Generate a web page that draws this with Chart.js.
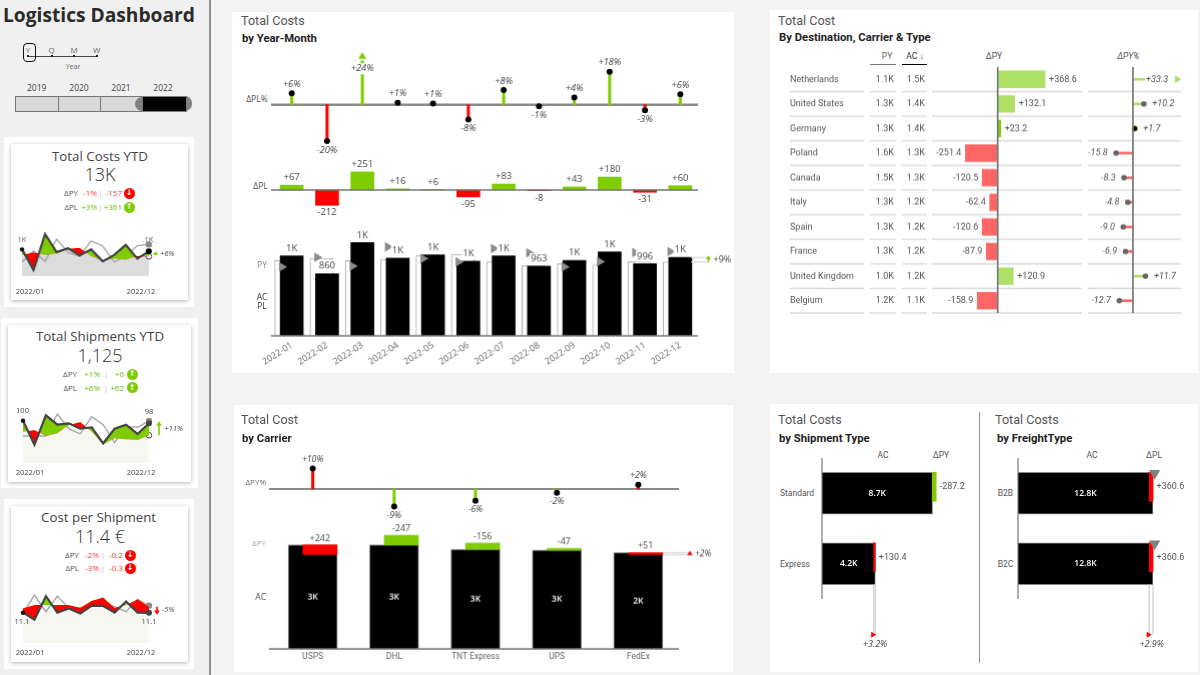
<!DOCTYPE html>
<html>
<head>
<meta charset="utf-8">
<title>Logistics Dashboard</title>
<script src="https://cdn.jsdelivr.net/npm/chart.js@4.4.0/dist/chart.umd.js"></script>
<style>
    html, body { margin: 0; padding: 0; background: #f3f3f3; }
    #page { position: relative; width: 1200px; height: 675px; overflow: hidden; background: #f3f3f3; }
    #page > div { position: absolute; white-space: nowrap; }
    #page > canvas { position: absolute; }
</style>
</head>
<body>
<div id="page"></div>
<script>
// ─── Data ──────────────────────────────────────────────────────
const months      = ['2022-01','2022-02','2022-03','2022-04','2022-05','2022-06','2022-07','2022-08','2022-09','2022-10','2022-11','2022-12'];
const costAC      = [1106,860,1290,1073,1119,1032,1106,963,1041,1161,996,1083];
const costPL      = [1039,1072,1039,1057,1113,1127,1023,971,998,981,1027,1023];
const costPY      = [954,1087,963,1230,1069,1023,1207,1147,954,1027,1152,1166];
const deltaPL     = [67,-212,251,16,6,-95,83,-8,43,180,-31,60];
const deltaPLPct  = [6.3,-19.8,24,1.1,0.6,-8.1,8.1,-0.8,4,18,-3,5.7];
const capPLPct    = [null,null,26.4,null,null,null,null,null,null,null,null,null];

const carriers    = ['USPS','DHL','TNT Express','UPS','FedEx'];
const carrierAC   = [2652,2652,2541,2516,2456];
const carrierDPY  = [242,-247,-156,-47,51];
const carrierPct  = [10,-8.6,-5.8,-1.8,2.1];

const countries   = ['Netherlands','United States','Germany','Poland','Canada','Italy','Spain','France','United Kingdom','Belgium'];
const countryPY   = ['1.1K','1.3K','1.3K','1.6K','1.5K','1.3K','1.3K','1.3K','1.0K','1.2K'];
const countryAC   = ['1.5K','1.4K','1.4K','1.3K','1.3K','1.2K','1.2K','1.2K','1.2K','1.1K'];
const countryDPY  = [368.6,132.1,23.2,-251.4,-120.5,-62.4,-120.6,-87.9,120.9,-158.9];
const countryPct  = [33.3,10.2,1.7,-15.8,-8.3,-4.8,-9.0,-6.9,11.7,-12.7];
const capCountry  = [41.3,null,null,null,null,null,null,null,null,null];

const shipTypes   = ['Standard','Express'];
const shipAC      = [8700,4200];
const shipDPY     = [-287.2,130.4];
const freightType = ['B2B','B2C'];
const freightAC   = [12800,12800];
const freightDPL  = [360.6,360.6];
const freightMark = [12950,12950];

const shipsAC     = [100,82,104,97,98,94,95,83,94,97,90,98];
const shipsPL     = [91.75,93,88.5,90.5,96.75,99,91.75,82,86.75,86,85.5,89];
const shipsPY     = [88.5,88.5,88.5,105,94,90,103,97,83.5,95.5,95,99.75];
const unitAC      = [11.06,10.5,12.4,11.06,11.4,11.0,11.64,11.6,11.07,11.97,11.07,11.05];
const unitPL      = [11.41,11.68,11.68,11.68,11.68,11.47,12.03,12.3,11.47,11.68,12.14,11.55];
const unitPY      = [11.0,12.49,11.14,12.41,11.41,11.47,11.6,11.82,11.55,11.14,12.14,11.63];

const years       = ['2019','2020','2021','2022'];
const grains      = ['Y','Q','M','W'];

const GREEN  = '#7fcc00';
const RED    = '#ff0000';
const LGREEN = '#aedf66';
const LRED   = '#ff6666';
const BODY   = '"Open Sans", sans-serif';
const DIN    = 'Roboto, sans-serif';
const page   = document.getElementById('page');

const signed = (v, d = 0) => (v > 0 ? '+' : '') + v.toFixed(d);
const short  = v => v >= 1000 ? Math.round(v / 1000) + 'K' : String(v);
const kilo   = v => (v / 1000).toFixed(1) + 'K';

// ─── Plain page text and boxes ─────────────────────────────────
function box(x, y, w, h, style = '') {
    const d = document.createElement('div');
    d.style.cssText = `left:${x}px;top:${y}px;width:${w}px;height:${h}px;${style}`;
    page.appendChild(d);
    return d;
}

function txt(x, y, str, o = {}) {
    const d = document.createElement('div');
    const shift = o.align === 'right' ? '-100%' : o.align === 'left' ? '0' : '-50%';
    d.textContent = str;
    d.style.cssText = `left:${x}px;top:${y}px;transform:translate(${shift},-50%);line-height:1;` +
        `font-family:${o.font || BODY};font-size:${o.size || 9}px;color:${o.color || '#444'};` +
        `font-weight:${o.weight || 400};font-style:${o.italic ? 'italic' : 'normal'};` +
        (o.spacing ? `letter-spacing:${o.spacing}px;` : '');
    page.appendChild(d);
}

function badge(x, y, up) {
    box(x - 5.5, y - 5.5, 11, 11, `border-radius:50%;background:${up ? GREEN : RED};`);
    txt(x, y, up ? '↑' : '↓', { size: 8, color: '#fff', weight: 700, font: '"DejaVu Sans", sans-serif' });
}

// ─── Chart plugins ─────────────────────────────────────────────
const shiftPlugin = {
    id: 'shiftMarks',
    afterDatasetsUpdate(chart) {
        chart.data.datasets.forEach((ds, i) => {
            if (!ds.dx && !ds.dy) return;
            chart.getDatasetMeta(i).data.forEach(el => {
                el.x += ds.dx || 0;
                el.y += ds.dy || 0;
            });
        });
    }
};

const baselinePlugin = {
    id: 'baseline',
    beforeDatasetsDraw(chart, _a, opts) { if (opts.color && opts.under) drawBaseline(chart, opts); },
    afterDatasetsDraw(chart, _a, opts)  { if (opts.color && !opts.under) drawBaseline(chart, opts); }
};

function drawBaseline(chart, opts) {
    const { ctx, chartArea: a, scales } = chart;
    ctx.save();
    ctx.strokeStyle = opts.color;
    ctx.lineWidth   = opts.width || 2;
    ctx.beginPath();
    if (opts.axis === 'x') {
        const x = scales.x.getPixelForValue(0);
        ctx.moveTo(x, a.top);
        ctx.lineTo(x, a.bottom);
    } else {
        const y = scales.y.getPixelForValue(0);
        ctx.moveTo(a.left - 3, y);
        ctx.lineTo(a.right, y);
    }
    ctx.stroke();
    ctx.restore();
}

const markPlugin = {
    id: 'markLabels',
    afterDatasetsDraw(chart) {
        const ctx = chart.ctx;
        chart.data.datasets.forEach((ds, i) => {
            if (!ds.markText) return;
            const off = ds.markOff === undefined ? 7 : ds.markOff;
            chart.getDatasetMeta(i).data.forEach((el, j) => {
                const str = ds.markText[j];
                if (!str) return;
                const raw = ds.data[j];
                const neg = typeof raw === 'number' && raw < 0;
                let x = el.x, y = el.y, align = 'center';
                if (ds.markMode === 'tip')   y = el.y + (neg ? off : -off);
                if (ds.markMode === 'top')   y = Math.min(el.y, el.base) - off;
                if (ds.markMode === 'mid')   y = (el.y + el.base) / 2;
                if (ds.markMode === 'hmid')  x = (el.x + el.base) / 2;
                if (ds.markMode === 'htip')  { x = el.x + (neg ? -off : off); align = neg ? 'right' : 'left'; }
                if (ds.markMode === 'hend')  { x = Math.max(el.x, el.base) + off; align = 'left'; }
                const adj = ds.markAdjust && ds.markAdjust[j];
                if (adj) { x += adj[0]; y += adj[1]; }
                ctx.save();
                ctx.font = ds.markFont || `9.5px ${BODY}`;
                ctx.textAlign = align;
                ctx.textBaseline = 'middle';
                if (ds.markBg) {
                    const w = ctx.measureText(str).width + 2;
                    const bx = align === 'center' ? x - w / 2 : align === 'left' ? x - 1 : x - w + 1;
                    ctx.fillStyle = ds.markBg;
                    ctx.fillRect(bx, y - 5.5, w, 11);
                }
                ctx.fillStyle = ds.markColor || '#444';
                ctx.fillText(str, x, y);
                ctx.restore();
            });
        });
    }
};

// side note on the last column: two guide lines, a sign and the percent
const notePlugin = {
    id: 'sideNote',
    afterDatasetsDraw(chart, _a, opts) {
        if (opts.a === undefined) return;
        const { ctx, chartArea: area, scales } = chart;
        const ya = scales.y.getPixelForValue(opts.a);
        const yb = scales.y.getPixelForValue(opts.b);
        const xm = area.right + opts.dx;
        const up = ya < yb;
        ctx.save();
        if (opts.lineFrom !== undefined) {
            ctx.strokeStyle = '#cfcfcf';
            ctx.lineWidth = 1;
            [ya, yb].forEach(y => {
                ctx.beginPath();
                ctx.moveTo(area.right + opts.lineFrom, y);
                ctx.lineTo(xm, y);
                ctx.stroke();
            });
        }
        ctx.fillStyle = ctx.strokeStyle = opts.color;
        const mid = (ya + yb) / 2;
        const dir = up ? -1 : 1;
        if (opts.shape === 'arrow') {
            ctx.lineWidth = 1.6;
            ctx.beginPath();
            ctx.moveTo(xm, yb);
            ctx.lineTo(xm, ya);
            ctx.stroke();
        }
        const tip = opts.shape === 'arrow' ? ya + dir * 2 : mid + dir * opts.size;
        ctx.beginPath();
        ctx.moveTo(xm, tip);
        ctx.lineTo(xm - opts.size, tip - dir * opts.size * 1.5);
        ctx.lineTo(xm + opts.size, tip - dir * opts.size * 1.5);
        ctx.closePath();
        ctx.fill();
        ctx.font = opts.font;
        ctx.fillStyle = '#444';
        ctx.textAlign = 'left';
        ctx.textBaseline = 'middle';
        ctx.fillText(opts.text, xm + opts.textDx, mid);
        ctx.restore();
    }
};

// strip hanging below a horizontal bar, ends in a small flag and a percent
const dropPlugin = {
    id: 'dropNote',
    afterDatasetsDraw(chart, _a, opts) {
        if (opts.a === undefined) return;
        const { ctx, scales } = chart;
        const el = chart.getDatasetMeta(opts.ds).data[opts.index];
        const xa = scales.x.getPixelForValue(opts.a);
        const xb = scales.x.getPixelForValue(opts.b);
        const top = el.y + el.height / 2;
        const end = top + opts.len;
        ctx.save();
        ctx.strokeStyle = '#d4d4d4';
        ctx.lineWidth = 1.4;
        [xa, xb].forEach(x => {
            ctx.beginPath();
            ctx.moveTo(x, top);
            ctx.lineTo(x, end);
            ctx.stroke();
        });
        ctx.fillStyle = RED;
        ctx.beginPath();
        ctx.moveTo(xb + 2.5, end);
        ctx.lineTo(xb - 2.5, end - 3);
        ctx.lineTo(xb - 2.5, end + 3);
        ctx.closePath();
        ctx.fill();
        ctx.font = `italic 9px ${BODY}`;
        ctx.fillStyle = '#444';
        ctx.textAlign = 'center';
        ctx.textBaseline = 'middle';
        ctx.fillText(opts.text, (xa + xb) / 2 + 0.5, end + 9.5);
        ctx.restore();
    }
};

// row rules and the text columns of the destination table
const tablePlugin = {
    id: 'tableRows',
    beforeDatasetsDraw(chart) {
        const { ctx, chartArea: a, scales } = chart;
        const left = chart.canvas.offsetLeft;
        const step = (a.bottom - a.top) / countries.length;
        const cols = [[790,864],[870,896],[902,927],[932,1082],[1088,1181]];
        ctx.save();
        ctx.strokeStyle = '#d9d9d9';
        ctx.lineWidth = 1.3;
        countries.forEach((name, i) => {
            const y = scales.y.getPixelForValue(i);
            cols.forEach(c => {
                ctx.beginPath();
                ctx.moveTo(c[0] - left, y + step / 2);
                ctx.lineTo(c[1] - left, y + step / 2);
                ctx.stroke();
            });
            ctx.fillStyle = '#555';
            ctx.font = `9px ${DIN}`;
            ctx.textBaseline = 'middle';
            ctx.textAlign = 'left';
            ctx.fillText(name, 790 - left, y);
            ctx.textAlign = 'right';
            ctx.fillText(countryPY[i], 894 - left, y);
            ctx.fillText(countryAC[i], 925 - left, y);
        });
        ctx.restore();
    }
};

Chart.register(shiftPlugin, baselinePlugin, markPlugin, notePlugin, dropPlugin);

function makeChart(rect, pad, config) {
    const canvas = document.createElement('canvas');
    const w = rect.w + pad.l + pad.r;
    const h = rect.h + pad.t + pad.b;
    canvas.width = w;
    canvas.height = h;
    canvas.style.cssText = `left:${rect.x - pad.l}px;top:${rect.y - pad.t}px;width:${w}px;height:${h}px;`;
    page.appendChild(canvas);
    const options = config.options || {};
    options.responsive = false;
    options.animation = false;
    // a visible category axis takes the whole bottom margin, so no padding is left under it
    const bottom = options.scales && options.scales.x && options.scales.x.display ? 0 : pad.b;
    options.layout = { padding: { left: pad.l, right: pad.r, top: pad.t, bottom } };
    options.plugins = Object.assign({ legend: { display: false }, tooltip: { enabled: false } }, options.plugins);
    options.events = [];
    config.options = options;
    return new Chart(canvas.getContext('2d'), config);
}

const hidden = (min, max) => ({ display: false, min, max });
const catAxis = (height, font, extra = {}) => ({
    display: true,
    offset: true,
    grid: { display: false, drawTicks: false },
    border: { display: false },
    ticks: Object.assign({ color: '#666', font, autoSkip: false, padding: 3 }, extra),
    afterFit: s => { s.height = height; }
});
const PAD = { l: 30, r: 40, t: 30, b: 40 };

// ─── Panels ────────────────────────────────────────────────────
box(0, 0, 209, 675, 'background:#f0f0f0;');
box(209, 0, 2, 675, 'background:#8f8f8f;');
box(232, 12, 502, 361, 'background:#fff;');
box(234, 405, 499, 267, 'background:#fff;');
box(770, 10, 428, 363, 'background:#fff;');
box(770, 404, 428, 268, 'background:#fff;');
box(978.5, 412, 1.5, 251, 'background:#8a97a5;');

// ─── Sidebar header and slicers ────────────────────────────────
txt(3, 15, 'Logistics Dashboard', { align: 'left', size: 19.2, weight: 700, color: '#2b2b2b' });

box(28, 55.5, 69, 1, 'background:#444;');
[28, 51.7, 74, 96.7].forEach((x, i) => {
    txt(x, 50, grains[i], { size: 8, color: '#666' });
    box(x - 1, 55, 2, 2, 'background:#222;');
});
box(22.5, 42.5, 11, 17, 'border:1.4px solid #111;border-radius:4px;');
txt(73, 65.5, 'Year', { size: 7, color: '#666' });

[36.7, 79, 121, 163].forEach((x, i) => txt(x, 88, years[i], { size: 8.5, color: '#444' }));
box(135, 96, 14, 15, 'background:#808080;border-radius:7px 0 0 7px;');
box(178, 96, 14, 15, 'background:#808080;border-radius:0 7px 7px 0;');
[15, 57.5, 100].forEach(x => box(x, 96, 42, 14, 'background:#d9d9d9;border:0.7px solid #777;box-sizing:content-box;'));
box(142, 96, 42.5, 14, 'background:#000;border:0.7px solid #777;');
box(135, 96.7, 7, 14, 'background:#808080;border-radius:7px 0 0 7px;');

// ─── KPI cards ─────────────────────────────────────────────────
const SHADOW = 'background:#fff;box-shadow:0 1px 4px rgba(0,0,0,.3);';
box(4, 137, 190, 170, 'background:#fff;');
box(11, 144, 177, 156, SHADOW);
box(1, 318, 197, 170, 'background:#fff;');
box(8, 325, 183, 157, SHADOW);
box(4, 499, 190, 170, 'background:#fff;');
box(11, 506, 177, 156, SHADOW);

function kpiRow(y, label, pct, abs, up, x) {
    const color = up ? '#6cbf00' : '#ff3b3b';
    txt(x[0], y, label, { size: 8, align: 'right', color: '#555' });
    txt(x[1], y, pct, { size: 8, align: 'right', color });
    txt(x[2], y, '|', { size: 8, color: '#bbb' });
    txt(x[3], y, abs, { size: 8, align: 'right', color });
    badge(x[4], y, up);
}

txt(100, 156.5, 'Total Costs YTD', { size: 13.3, weight: 500, color: '#444' });
txt(100, 174, '13K', { size: 18, weight: 300, color: '#333' });
kpiRow(193, 'ΔPY', '-1%', '-157', false, [78, 97, 100.7, 122, 129]);
kpiRow(207, 'ΔPL', '+3%', '+361', true, [78, 97, 100.7, 122, 129]);

txt(100, 337, 'Total Shipments YTD', { size: 13.3, weight: 500, color: '#444' });
txt(100, 354.5, '1,125', { size: 18, weight: 300, color: '#333' });
kpiRow(374, 'ΔPY', '+1%', '+6', true, [77, 100, 106, 124, 132]);
kpiRow(387.7, 'ΔPL', '+6%', '+62', true, [77, 100, 106, 124, 132]);

txt(98.6, 518, 'Cost per Shipment', { size: 13.3, weight: 500, color: '#444' });
txt(100, 535.5, '11.4 €', { size: 18, weight: 300, color: '#333' });
kpiRow(555, 'ΔPY', '-2%', '-0.2', false, [79, 99, 103, 123, 130]);
kpiRow(568, 'ΔPL', '-3%', '-0.3', false, [79, 99, 103, 123, 130]);

function spark(rect, ac, py, pl, min, max, area, note, plDot, endColor) {
    makeChart(rect, { l: 8, r: 40, t: 10, b: 10 }, {
        type: 'line',
        data: {
            labels: months,
            datasets: [
                {
                    data: ac,
                    borderColor: '#444',
                    borderWidth: 2.2,
                    pointBackgroundColor: ['#111',...Array(10).fill('#111'), endColor],
                    pointBorderWidth: 0,
                    pointRadius: ctx => ctx.dataIndex === 0 ? 2.2 : ctx.dataIndex === 11 ? 3 : 0,
                    fill: { target: 2, above: GREEN, below: RED },
                    tension: 0,
                    clip: false
                },
                {
                    data: py,
                    borderColor: '#a8a8a8',
                    borderWidth: 1.4,
                    pointBackgroundColor: '#8c8c8c',
                    pointBorderWidth: 0,
                    pointRadius: ctx => ctx.dataIndex === 11 ? 3.2 : 0,
                    fill: false,
                    tension: 0
                },
                {
                    data: pl,
                    borderWidth: 0,
                    borderColor: 'transparent',
                    pointBackgroundColor: '#fff',
                    pointBorderColor: '#444',
                    pointBorderWidth: 1,
                    pointRadius: ctx => (plDot && ctx.dataIndex === 11) ? 2.8 : 0,
                    fill: { target: 'start', above: area, below: area },
                    backgroundColor: area,
                    tension: 0
                }
            ]
        },
        options: {
            scales: {
                x: { display: false, offset: false },
                y: hidden(min, max)
            },
            plugins: { sideNote: note }
        }
    });
}

spark({ x: 22.3, y: 230, w: 126.7, h: 46 }, costAC, costPY, costPL, 788, 1338, '#dcdcdc',
    { a: 1083, b: 1023, dx: 6.7, color: GREEN, shape: 'tri', size: 2.5, textDx: 4.5, text: '+6%', font: `italic 7.5px ${BODY}` }, true, '#000');
txt(22, 239.5, '1K', { size: 7.5, color: '#666' });
txt(149, 239.5, '1K', { size: 7.5, color: '#666' });
txt(30, 292, '2022/01', { size: 7.5 });
txt(141, 292, '2022/12', { size: 7.5 });

spark({ x: 22.7, y: 410, w: 126.3, h: 53 }, shipsAC, shipsPY, shipsPL, 68.2, 108, '#f7f7f2',
    { a: 98, b: 89, dx: 10, color: GREEN, shape: 'arrow', size: 2.8, textDx: 5.5, text: '+11%', font: `italic 7.5px ${BODY}` }, true, '#444');
txt(22.5, 410.5, '100', { size: 7.5 });
txt(149, 412, '98', { size: 7.5 });
txt(30, 472.5, '2022/01', { size: 7.5 });
txt(141, 472.5, '2022/12', { size: 7.5 });

spark({ x: 22.7, y: 590, w: 126.3, h: 53 }, unitAC, unitPY, unitPL, 8.6, 12.9, '#f7f7f2',
    { a: 11.05, b: 11.55, dx: 8, color: RED, shape: 'arrow', size: 2.8, textDx: 5, text: '-5%', font: `italic 7.5px ${BODY}` }, false, '#444');
txt(22, 622, '11.1', { size: 7.5 });
txt(149, 622, '11.1', { size: 7.5 });
txt(30, 653, '2022/01', { size: 7.5 });
txt(141, 653, '2022/12', { size: 7.5 });

// ─── Total Costs by Year-Month ─────────────────────────────────
txt(241, 20.5, 'Total Costs', { align: 'left', size: 12.6, font: DIN, color: '#555' });
txt(242, 39, 'by Year-Month', { align: 'left', size: 11.3, font: DIN, weight: 700, color: '#222' });
txt(267.7, 98.5, 'ΔPL%', { align: 'right', size: 8.5, color: '#555' });
txt(267.7, 186, 'ΔPL', { align: 'right', size: 8.5, color: '#555' });
txt(262, 264.5, 'PY', { size: 8.5, color: '#888' });
txt(262, 297, 'AC', { size: 8.5, color: '#333' });
txt(262, 305.5, 'PL', { size: 8.5, color: '#333' });

const monthRect = { x: 274.4, w: 423.4 };
makeChart({ ...monthRect, y: 44, h: 116 }, PAD, {
    type: 'bar',
    data: {
        labels: months,
        datasets: [
            {
                type: 'line',
                data: deltaPLPct,
                showLine: false,
                pointBackgroundColor: '#000',
                pointBorderWidth: 0,
                pointRadius: capPLPct.map(v => v === null ? 3 : 0),
                markText: deltaPLPct.map(v => signed(Math.round(v)) + '%'),
                markMode: 'tip',
                markOff: 9,
                markFont: `italic 9.3px ${BODY}`,
                markBg: '#fff',
                markAdjust: { 2: [0, 17] }
            },
            {
                type: 'line',
                data: capPLPct,
                showLine: false,
                pointStyle: 'triangle',
                pointBackgroundColor: GREEN,
                pointBorderWidth: 0,
                pointRadius: 4.5
            },
            {
                data: deltaPLPct,
                barThickness: 2.4,
                grouped: false,
                backgroundColor: deltaPLPct.map(v => v > 0 ? GREEN : RED)
            }
        ]
    },
    options: {
        scales: { x: { display: false }, y: hidden(-30.2, 33.17) },
        plugins: { baseline: { color: '#8a8a8a', width: 2.4, under: true } }
    }
});

makeChart({ ...monthRect, y: 155, h: 75 }, PAD, {
    type: 'bar',
    data: {
        labels: months,
        datasets: [{
            data: deltaPL,
            barThickness: 23,
            backgroundColor: deltaPL.map(v => v > 0 ? GREEN : RED),
            markText: deltaPL.map(v => signed(v)),
            markMode: 'tip',
            markOff: 7.5
        }]
    },
    options: {
        scales: { x: { display: false }, y: hidden(-555, 486) },
        plugins: { baseline: { color: '#777', width: 1.6 } }
    }
});

makeChart({ ...monthRect, y: 226, h: 109.7 }, { l: 30, r: 40, t: 20, b: 40 }, {
    type: 'bar',
    data: {
        labels: months,
        datasets: [
            {
                type: 'line',
                data: costPY,
                showLine: false,
                dx: -10,
                pointStyle: 'triangle',
                pointRotation: 90,
                pointBackgroundColor: '#8c8c8c',
                pointBorderWidth: 0,
                pointRadius: 5.5
            },
            {
                data: costAC,
                barThickness: 23,
                grouped: false,
                backgroundColor: '#000',
                markText: costAC.map(short),
                markMode: 'tip',
                markOff: 7.5,
                markBg: '#fff'
            },
            {
                data: costPL,
                barThickness: 23,
                grouped: false,
                dx: -5.5,
                backgroundColor: '#fff',
                borderColor: '#aaa',
                borderWidth: 1
            }
        ]
    },
    options: {
        scales: {
            x: catAxis(40, { size: 9, family: BODY }, { minRotation: 33, maxRotation: 33, padding: 4 }),
            y: hidden(0, 1517)
        },
        plugins: {
            baseline: { color: '#777', width: 1.4 },
            sideNote: { a: 1083, b: 1023, dx: 10.5, lineFrom: -7, color: GREEN, shape: 'arrow', size: 2.5, textDx: 5, text: '+9%', font: `9px ${BODY}` }
        }
    }
});

// ─── Total Cost by Carrier ─────────────────────────────────────
txt(241, 420, 'Total Cost', { align: 'left', size: 12.6, font: DIN, color: '#555' });
txt(242, 439, 'by Carrier', { align: 'left', size: 11.3, font: DIN, weight: 700, color: '#222' });
txt(266, 482, 'ΔPY%', { align: 'right', size: 8, color: '#666', italic: false });
txt(266, 543, 'ΔPY', { align: 'right', size: 8, color: '#aaa' });
txt(266, 597, 'AC', { align: 'right', size: 8.5, color: '#555' });

const carrierRect = { x: 272.3, w: 406.7 };
makeChart({ ...carrierRect, y: 440, h: 90 }, PAD, {
    type: 'bar',
    data: {
        labels: carriers,
        datasets: [
            {
                type: 'line',
                data: carrierPct,
                showLine: false,
                pointBackgroundColor: '#000',
                pointBorderWidth: 0,
                pointRadius: 3,
                markText: carrierPct.map(v => signed(Math.round(v)) + '%'),
                markMode: 'tip',
                markOff: 9,
                markFont: `italic 8.8px ${BODY}`
            },
            {
                data: carrierPct,
                barThickness: 2.4,
                grouped: false,
                backgroundColor: carrierPct.map(v => v > 0 ? RED : GREEN)
            }
        ]
    },
    options: {
        scales: { x: { display: false }, y: hidden(-20.1, 24) },
        plugins: { baseline: { color: '#8a8a8a', width: 2, under: true } }
    }
});

makeChart({ ...carrierRect, y: 530, h: 118.7 }, { l: 30, r: 40, t: 30, b: 20 }, {
    type: 'bar',
    data: {
        labels: carriers,
        datasets: [
            {
                data: carrierAC.map((v, i) => [v, v - carrierDPY[i]]),
                barThickness: 34,
                grouped: false,
                dx: 7.2,
                backgroundColor: carrierDPY.map(v => v > 0 ? RED : GREEN),
                markText: carrierDPY.map(v => signed(v)),
                markMode: 'top',
                markOff: 6.5,
                markFont: `9px ${BODY}`
            },
            {
                data: carrierAC,
                barThickness: 49,
                grouped: false,
                backgroundColor: '#000',
                borderColor: '#8a8a8a',
                borderWidth: 1,
                markText: carrierAC.map(short),
                markMode: 'mid',
                markColor: '#fff',
                markFont: `600 8.5px ${BODY}`
            }
        ]
    },
    options: {
        scales: {
            x: catAxis(20, { size: 8.5, family: DIN }, { padding: 3 }),
            y: hidden(0, 3028)
        },
        plugins: {
            baseline: { color: '#777', width: 1.4 },
            sideNote: { a: 2456, b: 2405, dx: 11, lineFrom: -16, color: RED, shape: 'tri', size: 2.8, textDx: 5, text: '+2%', font: `italic 8.5px ${BODY}` }
        }
    }
});

// ─── Destination table ─────────────────────────────────────────
txt(778, 20.5, 'Total Cost', { align: 'left', size: 12.6, font: DIN, color: '#555' });
txt(779, 38, 'By Destination, Carrier & Type', { align: 'left', size: 11.3, font: DIN, weight: 700, color: '#222' });
txt(887, 56, 'PY', { size: 8.5, font: DIN, color: '#666' });
txt(915, 56, 'AC ↓', { size: 8.5, font: DIN, color: '#333' });
txt(994, 56, 'ΔPY', { size: 8.5, font: DIN, color: '#555' });
txt(1128.3, 56, 'ΔPY%', { size: 8.5, font: DIN, color: '#555', italic: true });
box(870, 63.5, 26, 1.8, 'background:#777;');
box(902, 63.5, 25, 1.8, 'background:#000;');

const rowRect = { y: 67, h: 245.6 };
makeChart({ x: 932, w: 150, ...rowRect }, { l: 150, r: 110, t: 10, b: 10 }, {
    type: 'bar',
    plugins: [tablePlugin],
    data: {
        labels: countries,
        datasets: [{
            data: countryDPY,
            barThickness: 16.6,
            backgroundColor: countryDPY.map((v, i) => i === 2 ? GREEN : v > 0 ? LGREEN : LRED),
            markText: countryDPY.map(v => signed(v, 1)),
            markMode: 'htip',
            markOff: 4,
            markColor: '#555',
            markFont: `9px ${DIN}`
        }]
    },
    options: {
        indexAxis: 'y',
        scales: { x: hidden(-511.3, 656), y: { display: false } },
        plugins: { baseline: { axis: 'x', color: '#777', width: 1.7 } }
    }
});

makeChart({ x: 1088, w: 93, ...rowRect }, { l: 20, r: 18, t: 10, b: 10 }, {
    type: 'bar',
    data: {
        labels: countries,
        datasets: [
            {
                type: 'line',
                indexAxis: 'y',
                data: countryPct,
                showLine: false,
                pointBackgroundColor: countryPct.map((v, i) => i === 2 ? '#000' : '#666'),
                pointBorderColor: GREEN,
                pointBorderWidth: countryPct.map((v, i) => i === 2 ? 0.8 : 0),
                pointRadius: capCountry.map(v => v === null ? 2.8 : 0),
                markText: countryPct.map(v => signed(v, 1)),
                markMode: 'htip',
                markOff: 8.5,
                markColor: '#555',
                markFont: `italic 9px ${DIN}`,
                markBg: '#fff',
                markAdjust: { 0: [-31, 0] }
            },
            {
                type: 'line',
                indexAxis: 'y',
                data: capCountry,
                showLine: false,
                pointStyle: 'triangle',
                pointRotation: 90,
                pointBackgroundColor: LGREEN,
                pointBorderWidth: 0,
                pointRadius: 4.2
            },
            {
                data: countryPct,
                barThickness: 2,
                grouped: false,
                backgroundColor: countryPct.map(v => v > 0 ? LGREEN : LRED)
            }
        ]
    },
    options: {
        indexAxis: 'y',
        scales: { x: hidden(-42, 44.9), y: { display: false } },
        plugins: { baseline: { axis: 'x', color: '#777', width: 1.7 } }
    }
});

// ─── Shipment type / freight type ──────────────────────────────
txt(778, 420, 'Total Costs', { align: 'left', size: 12.6, font: DIN, color: '#555' });
txt(779, 439, 'by Shipment Type', { align: 'left', size: 11.3, font: DIN, weight: 700, color: '#222' });
txt(995, 420, 'Total Costs', { align: 'left', size: 12.6, font: DIN, color: '#555' });
txt(997, 439, 'by FreightType', { align: 'left', size: 11.3, font: DIN, weight: 700, color: '#222' });
txt(883, 455, 'AC', { size: 8.5, font: DIN, color: '#555' });
txt(941, 455, 'ΔPY', { size: 8.5, font: DIN, color: '#555' });
txt(1092, 455, 'AC', { size: 8.5, font: DIN, color: '#555' });
txt(1154, 455, 'ΔPL', { size: 8.5, font: DIN, color: '#555' });
shipTypes.forEach((t, i) => txt(780, 493.3 + i * 70.5, t, { align: 'left', size: 8.5, font: DIN, color: '#555' }));
freightType.forEach((t, i) => txt(997.7, 493.3 + i * 70.5, t, { align: 'left', size: 8.5, font: DIN, color: '#555' }));

function typeChart(rect, cats, ac, delta, max, drop, baseColor, marker) {
    const datasets = [
        {
            data: ac.map((v, i) => [v, v - delta[i]]),
            barThickness: 29,
            grouped: false,
            dy: -6.5,
            backgroundColor: delta.map(v => v > 0 ? RED : GREEN),
            markText: delta.map(v => signed(v, 1)),
            markMode: 'hend',
            markOff: 3.5,
            markColor: '#555',
            markFont: `9px ${DIN}`
        },
        {
            data: ac,
            barThickness: 42,
            grouped: false,
            backgroundColor: '#000',
            borderColor: baseColor,
            borderWidth: 1,
            markText: ac.map(kilo),
            markMode: 'hmid',
            markColor: '#fff',
            markFont: `600 8.5px ${BODY}`
        }
    ];
    if (marker) {
        datasets.unshift({
            type: 'line',
            indexAxis: 'y',
            data: marker,
            showLine: false,
            dy: -20,
            pointStyle: 'triangle',
            pointRotation: 180,
            pointBackgroundColor: '#808080',
            pointBorderWidth: 0,
            pointRadius: 6.5
        });
    }
    return makeChart(rect, { l: 10, r: 40, t: 10, b: 60 }, {
        type: 'bar',
        data: { labels: cats, datasets },
        options: {
            indexAxis: 'y',
            scales: { x: hidden(0, max), y: { display: false } },
            plugins: {
                baseline: { axis: 'x', color: '#777', width: 1.2 },
                dropNote: drop
            }
        }
    });
}

typeChart({ x: 821.7, y: 458, w: 138, h: 141 }, shipTypes, shipAC, shipDPY, 10860,
    { ds: 1, index: 1, a: 4200, b: 4200 - 130.4, len: 50, text: '+3.2%' }, '#8a8a8a');
typeChart({ x: 1018.3, y: 458, w: 160, h: 141 }, freightType, freightAC, freightDPL, 15168,
    { ds: 2, index: 1, a: 12800, b: 12800 - 360.6, len: 50, text: '+2.9%' }, '#8a8a8a', freightMark);
</script>
</body>
</html>
